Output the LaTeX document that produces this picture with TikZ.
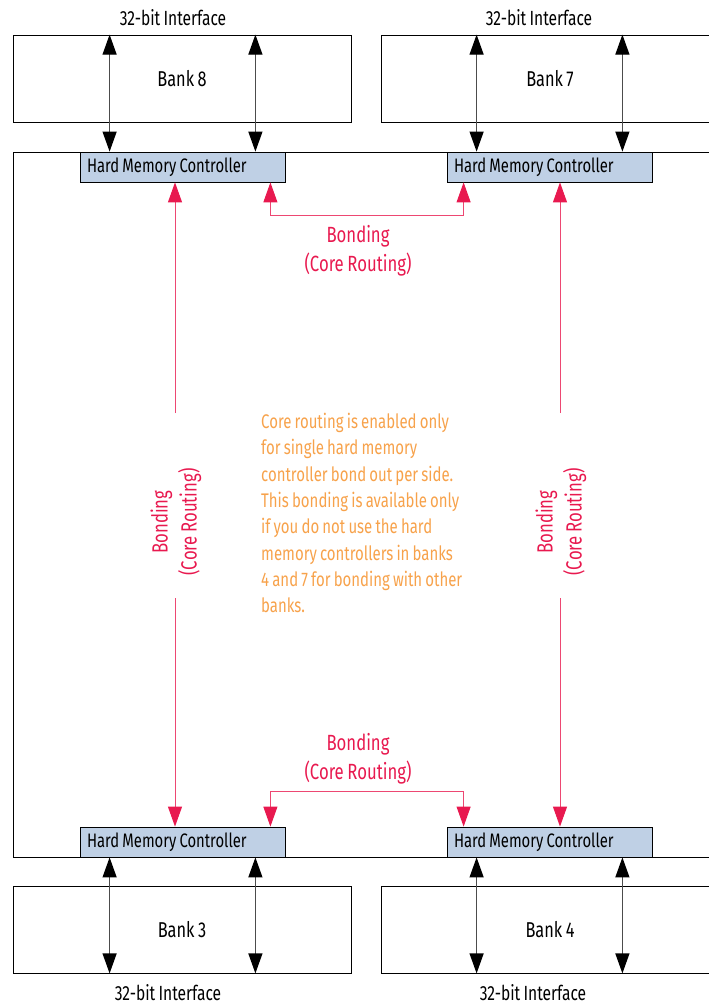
\documentclass[tikz,border=0pt]{standalone}
\usepackage{fontspec}
\setmainfont{Fira Sans}[FakeStretch=0.76, WordSpace=0.8]
\usetikzlibrary{arrows.meta}
\definecolor{bondred}{HTML}{E8194F}
\definecolor{noteorange}{HTML}{F7A24B}
\definecolor{hmcblue}{HTML}{BFD0E5}

\begin{document}
\begin{tikzpicture}[x=1pt, y=-1pt,
  bank/.style={draw, line width=0.8pt, minimum width=338pt, minimum height=87pt, inner sep=0pt, font=\fontsize{21.5}{24}\selectfont},
  hmc/.style={draw, line width=0.8pt, fill=hmcblue, minimum width=205pt, inner xsep=7pt, inner ysep=0pt, minimum height=30pt, font=\fontsize{19.5}{22}\selectfont},
  iface/.style={font=\fontsize{20.5}{23}\selectfont},
  io/.style={draw=black!70, line width=1.2pt, {Triangle[length=20pt,width=14pt,color=black]}-{Triangle[length=20pt,width=14pt,color=black]}},
  bond/.style={draw=bondred!80, line width=1pt, -{Triangle[length=20pt,width=14pt,color=bondred]}},
  bondboth/.style={bond, {Triangle[length=20pt,width=14pt,color=bondred]}-{Triangle[length=20pt,width=14pt,color=bondred]}},
  bondlbl/.style={text=bondred, align=center, font=\fontsize{22}{29}\selectfont, inner sep=0pt},
  note/.style={text=noteorange, align=left, font=\fontsize{19.7}{26.3}\selectfont, inner sep=0pt},
]
\useasboundingbox (0,0) rectangle (709,1005);

% device outline
\draw[line width=0.8pt] (13,152) rectangle (730,857);

% top banks
\node[bank] (bank8) at (182,78.5) {Bank 8};
\node[bank] (bank7) at (550,78.5) {Bank 7};
\node[iface] (if8) at (173,18) {32-bit Interface};
\node[iface] (if7) at (539,18) {32-bit Interface};

% bottom banks
\node[bank] (bank3) at (182,929.5) {Bank 3};
\node[bank] (bank4) at (550,929.5) {Bank 4};
\node[iface] (if3) at (168,993) {32-bit Interface};
\node[iface] (if4) at (533,993) {32-bit Interface};

% hard memory controllers
\node[hmc] (hmc8) at (182.5,167) {\makebox[191pt][l]{Hard Memory Controller}};
\node[hmc] (hmc7) at (549.5,167) {\makebox[191pt][l]{Hard Memory Controller}};
\node[hmc] (hmc3) at (182.5,842) {\makebox[191pt][l]{Hard Memory Controller}};
\node[hmc] (hmc4) at (549.5,842) {\makebox[191pt][l]{Hard Memory Controller}};

% 32-bit interface arrows
\path (hmc8.north west) ++(30,0) coordinate (io8a);
\path (hmc8.north east) ++(-30,0) coordinate (io8b);
\path (hmc7.north west) ++(30,0) coordinate (io7a);
\path (hmc7.north east) ++(-30,0) coordinate (io7b);
\draw[io] (io8a) -- (io8a |- bank8.north);
\draw[io] (io8b) -- (io8b |- bank8.north);
\draw[io] (io7a) -- (io7a |- bank7.north);
\draw[io] (io7b) -- (io7b |- bank7.north);
\path (hmc3.south west) ++(30,0) coordinate (io3a);
\path (hmc3.south east) ++(-30,0) coordinate (io3b);
\path (hmc4.south west) ++(30,0) coordinate (io4a);
\path (hmc4.south east) ++(-30,0) coordinate (io4b);
\draw[io] (io3a) -- (io3a |- bank3.south);
\draw[io] (io3b) -- (io3b |- bank3.south);
\draw[io] (io4a) -- (io4a |- bank4.south);
\draw[io] (io4b) -- (io4b |- bank4.south);

% bonding between controllers on one side
\path (hmc8.south east) ++(-15,0) coordinate (bt8);
\path (hmc7.south west) ++(17,0) coordinate (bt7);
\draw[bondboth] (bt8) -- ++(0,33) -| (bt7);
\node[bondlbl] (bondT) at (358,251) {Bonding\\(Core Routing)};
\path (hmc3.north east) ++(-15,0) coordinate (bb3);
\path (hmc4.north west) ++(17,0) coordinate (bb4);
\draw[bondboth] (bb3) -- ++(0,-35) -| (bb4);
\node[bondlbl] (bondB) at (358,759) {Bonding\\(Core Routing)};

% bonding between top and bottom controllers
\node[bondlbl, rotate=90] (bondL) at (176,522) {Bonding\\(Core Routing)};
\node[bondlbl, rotate=90] (bondR) at (561,522) {Bonding\\(Core Routing)};
\coordinate (vl1) at (175,413);
\coordinate (vl2) at (175,598);
\coordinate (vr1) at (560,413);
\coordinate (vr2) at (560,598);
\draw[bond] (vl1) -- (vl1 |- hmc8.south);
\draw[bond] (vl2) -- (vl2 |- hmc3.north);
\draw[bond] (vr1) -- (vr1 |- hmc7.south);
\draw[bond] (vr2) -- (vr2 |- hmc4.north);

% note
\node[note, anchor=north west] (note) at (261,413) {Core routing is enabled only\\
for single hard memory\\
controller bond out per side.\\
This bonding is available only\\
if you do not use the hard\\
memory controllers in banks\\
4 and 7 for bonding with other\\
banks.};
\end{tikzpicture}
\end{document}
